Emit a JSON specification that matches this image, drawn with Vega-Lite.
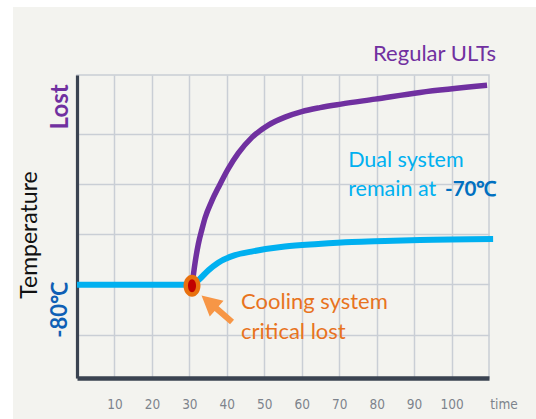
{
  "$schema": "https://vega.github.io/schema/vega-lite/v6.json",
  "width": 412,
  "height": 303,
  "autosize": "none",
  "padding": {"left": 77, "top": 75, "right": 47, "bottom": 41},
  "background": "#f3f3ef",
  "config": {
    "view": {"stroke": "#c9ced5", "strokeWidth": 1.5},
    "font": "Lato"
  },
  "datasets": {
    "curves": [
      {"series": "Regular ULTs", "time": 30.7, "temp": -80.3},
      {"series": "Regular ULTs", "time": 31.51, "temp": -75.78},
      {"series": "Regular ULTs", "time": 32.39, "temp": -72.0},
      {"series": "Regular ULTs", "time": 33.38, "temp": -69.01},
      {"series": "Regular ULTs", "time": 34.18, "temp": -66.82},
      {"series": "Regular ULTs", "time": 35.97, "temp": -63.44},
      {"series": "Regular ULTs", "time": 37.73, "temp": -60.76},
      {"series": "Regular ULTs", "time": 40.4, "temp": -56.98},
      {"series": "Regular ULTs", "time": 43.07, "temp": -53.9},
      {"series": "Regular ULTs", "time": 46.65, "temp": -50.81},
      {"series": "Regular ULTs", "time": 51.09, "temp": -48.32},
      {"series": "Regular ULTs", "time": 55.55, "temp": -46.73},
      {"series": "Regular ULTs", "time": 60.01, "temp": -45.63},
      {"series": "Regular ULTs", "time": 64.89, "temp": -44.84},
      {"series": "Regular ULTs", "time": 70.5, "temp": -44.14},
      {"series": "Regular ULTs", "time": 79.57, "temp": -43.15},
      {"series": "Regular ULTs", "time": 91.59, "temp": -41.82},
      {"series": "Regular ULTs", "time": 109.48, "temp": -40.4},
      {"series": "Dual system", "time": 0, "temp": -80.1},
      {"series": "Dual system", "time": 15, "temp": -80.1},
      {"series": "Dual system", "time": 30.7, "temp": -80.1},
      {"series": "Dual system", "time": 32.4, "temp": -79.2},
      {"series": "Dual system", "time": 35.1, "temp": -77.2},
      {"series": "Dual system", "time": 37.7, "temp": -75.7},
      {"series": "Dual system", "time": 42.2, "temp": -74.2},
      {"series": "Dual system", "time": 46.6, "temp": -73.5},
      {"series": "Dual system", "time": 55.5, "temp": -72.5},
      {"series": "Dual system", "time": 64.4, "temp": -72.0},
      {"series": "Dual system", "time": 73.4, "temp": -71.6},
      {"series": "Dual system", "time": 82.2, "temp": -71.4},
      {"series": "Dual system", "time": 91.6, "temp": -71.2},
      {"series": "Dual system", "time": 111.1, "temp": -71.0}
    ]
  },
  "layer": [
    {
      "data": {"values": [{"x1": -30, "x2": -17.1, "y1": 0, "y2": -120}, {"x1": -30, "x2": 130, "y1": -24.8, "y2": 0}]},
      "mark": {"type": "rect", "fill": "#ffffff"},
      "encoding": {
        "x": {"field": "x1", "type": "quantitative", "scale": {"domain": [0, 110], "nice": false, "zero": false},
              "axis": {"values": [10, 20, 30, 40, 50, 60, 70, 80, 90, 100], "title": null, "grid": true,
                       "gridColor": "#c9ced5", "gridWidth": 1.5, "ticks": false, "tickSize": 0,
                       "domainColor": "#3a4351", "domainWidth": 4.5,
                       "labelFont": "DejaVu Sans Condensed", "labelFontSize": 13.5, "labelColor": "#7d838c",
                       "labelPadding": 26, "labelBaseline": "middle"}},
        "x2": {"field": "x2"},
        "y": {"field": "y1", "type": "quantitative", "scale": {"domain": [-98.65, -38.35], "nice": false, "zero": false},
              "axis": {"values": [-90, -80, -70, -60, -50], "title": null, "labels": false, "ticks": false, "tickSize": 0,
                       "grid": true, "gridColor": "#c9ced5", "gridWidth": 1.5,
                       "domainColor": "#3a4351", "domainWidth": 3.2}},
        "y2": {"field": "y2"}
      }
    },
    {
      "data": {"name": "curves"},
      "mark": {"type": "line", "interpolate": "monotone", "strokeCap": "butt"},
      "encoding": {
        "x": {"field": "time", "type": "quantitative"},
        "y": {"field": "temp", "type": "quantitative"},
        "detail": {"field": "series"},
        "color": {"field": "series", "type": "nominal", "scale": {"domain": ["Regular ULTs", "Dual system"], "range": ["#7030a0", "#00b0f0"]}, "legend": null},
        "size": {"field": "series", "type": "nominal", "scale": {"domain": ["Regular ULTs", "Dual system"], "range": [5.5, 6]}, "legend": null}
      }
    },
    {
      "data": {"values": [{"time": 30.7, "temp": -80.3}]},
      "mark": {"type": "point", "filled": true, "opacity": 1, "fill": "#e8700e", "size": 484, "shape": "M -0.77 0 A 0.77 1 0 1 1 0.77 0 A 0.77 1 0 1 1 -0.77 0 Z"},
      "encoding": {"x": {"field": "time", "type": "quantitative"}, "y": {"field": "temp", "type": "quantitative"}}
    },
    {
      "data": {"values": [{"time": 30.7, "temp": -80.3}]},
      "mark": {"type": "point", "filled": true, "opacity": 1, "fill": "#c00000", "size": 169, "shape": "M -0.62 0 A 0.62 1 0 1 1 0.62 0 A 0.62 1 0 1 1 -0.62 0 Z"},
      "encoding": {"x": {"field": "time", "type": "quantitative"}, "y": {"field": "temp", "type": "quantitative"}}
    },
    {
      "data": {"values": [{"time": 37.32, "temp": -84.87}]},
      "mark": {"type": "point", "filled": true, "opacity": 1, "fill": "#f79646", "size": 1600, "shape": "M -0.7625 -0.6625 L 0.3375 -0.4025 L 0.0925 -0.1225 L 0.8625 0.5475 L 0.6625 0.7775 L -0.1075 0.1075 L -0.3525 0.3875 Z"},
      "encoding": {"x": {"field": "time", "type": "quantitative"}, "y": {"field": "temp", "type": "quantitative"}}
    },
    {
      "data": {"values": [{"label": "Regular ULTs", "time": 111.9, "temp": -35.6}]},
      "mark": {"type": "text", "align": "right", "baseline": "alphabetic", "fontSize": 22, "color": "#7030a0"},
      "encoding": {"x": {"field": "time", "type": "quantitative"}, "y": {"field": "temp", "type": "quantitative"}, "text": {"field": "label"}}
    },
    {
      "data": {"values": [{"label": "Dual system", "time": 72.4, "temp": -56.6}, {"label": "remain at", "time": 72.4, "temp": -62.4}]},
      "mark": {"type": "text", "align": "left", "baseline": "alphabetic", "fontSize": 21.5, "color": "#00b0f0"},
      "encoding": {"x": {"field": "time", "type": "quantitative"}, "y": {"field": "temp", "type": "quantitative"}, "text": {"field": "label"}}
    },
    {
      "data": {"values": [{"label": "-70℃", "time": 112.0, "temp": -62.4}]},
      "mark": {"type": "text", "align": "right", "baseline": "alphabetic", "fontSize": 20.5, "fontWeight": "bold", "color": "#0070c0"},
      "encoding": {"x": {"field": "time", "type": "quantitative"}, "y": {"field": "temp", "type": "quantitative"}, "text": {"field": "label"}}
    },
    {
      "data": {"values": [{"label": "Cooling system", "time": 43.8, "temp": -84.9}, {"label": "critical lost", "time": 43.8, "temp": -90.85}]},
      "mark": {"type": "text", "align": "left", "baseline": "alphabetic", "fontSize": 22, "color": "#e8731e"},
      "encoding": {"x": {"field": "time", "type": "quantitative"}, "y": {"field": "temp", "type": "quantitative"}, "text": {"field": "label"}}
    },
    {
      "data": {"values": [{"label": "Lost", "time": -4.27, "temp": -44.7}]},
      "mark": {"type": "text", "align": "center", "baseline": "middle", "angle": 270, "fontSize": 24, "fontWeight": "bold", "color": "#7030a0"},
      "encoding": {"x": {"field": "time", "type": "quantitative"}, "y": {"field": "temp", "type": "quantitative"}, "text": {"field": "label"}}
    },
    {
      "data": {"values": [{"label": "-80℃", "time": -4.54, "temp": -85.1}]},
      "mark": {"type": "text", "align": "center", "baseline": "middle", "angle": 270, "fontSize": 22, "fontWeight": "bold", "color": "#0f5fb5"},
      "encoding": {"x": {"field": "time", "type": "quantitative"}, "y": {"field": "temp", "type": "quantitative"}, "text": {"field": "label"}}
    },
    {
      "data": {"values": [{"label": "Temperature", "time": -12.55, "temp": -70.2}]},
      "mark": {"type": "text", "align": "center", "baseline": "middle", "angle": 270, "fontSize": 23, "color": "#111111"},
      "encoding": {"x": {"field": "time", "type": "quantitative"}, "y": {"field": "temp", "type": "quantitative"}, "text": {"field": "label"}}
    },
    {
      "data": {"values": [{"label": "time", "time": 114.0, "temp": -104.0}]},
      "mark": {"type": "text", "align": "center", "baseline": "middle", "fontSize": 13.5, "font": "DejaVu Sans Condensed", "color": "#7d838c"},
      "encoding": {"x": {"field": "time", "type": "quantitative"}, "y": {"field": "temp", "type": "quantitative"}, "text": {"field": "label"}}
    }
  ]
}
